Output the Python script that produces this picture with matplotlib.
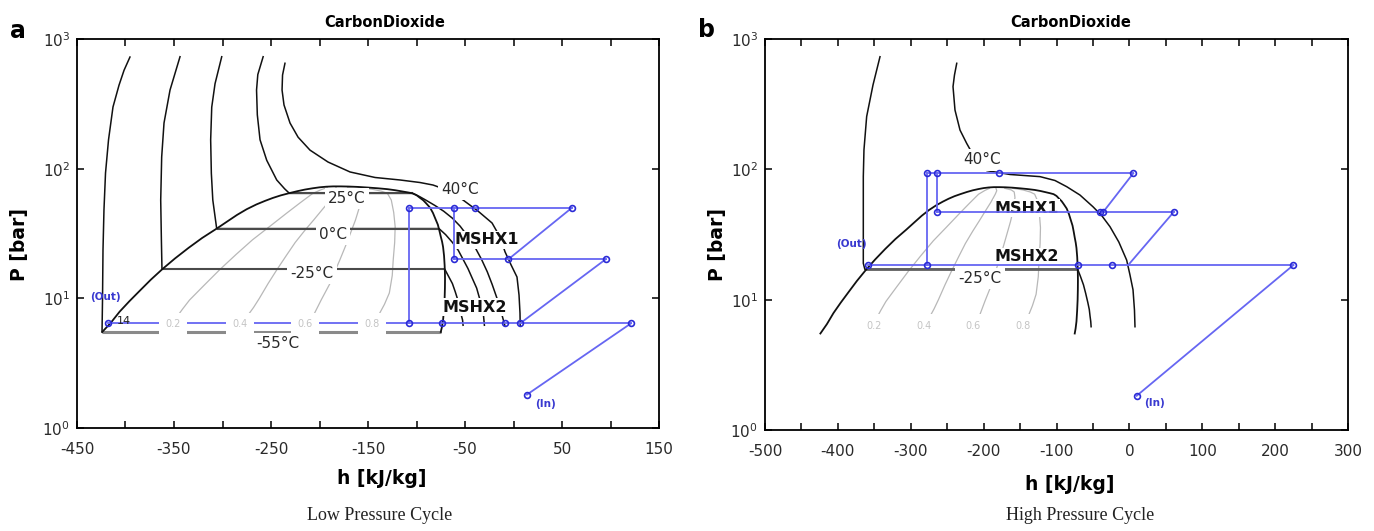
import matplotlib
matplotlib.use("Agg")
import matplotlib.pyplot as plt
from matplotlib.ticker import FixedLocator, NullLocator, LogFormatterSciNotation

plt.rcParams['font.family'] = ['DejaVu Sans']
plt.rcParams['axes.unicode_minus'] = False

# ---------------- data (h [kJ/kg], P [bar]) ----------------
# saturation dome (shared by both panels)
dome_h = [-424, -415, -406, -396, -385, -374, -362, -349, -335, -321, -306, -295, -285, -275,
          -265, -256, -248, -240, -232, -223, -215, -207, -200, -193, -186,
          -178, -170, -160, -150, -140, -130, -122, -115, -109, -104, -100, -97, -93, -90,
          -86, -83, -80.5, -78, -76.5, -75, -73.6, -72.6, -71.6, -71, -70.7, -70.6, -70.7,
          -71, -71.7, -72.6, -73.8, -75]
dome_P = [5.5, 6.5, 7.9, 9.5, 11.5, 13.9, 16.8, 20.3, 24.5, 29.2, 34.5, 39.2, 44, 48.7,
          53, 56.5, 59.5, 62.2, 64.5, 67, 69, 70.6, 71.8, 72.6, 73,
          73, 72.8, 72.3, 71.5, 70.6, 69.5, 68.2, 66.8, 65.6, 64.5, 62.5, 60, 57, 54,
          50, 45.5, 41, 37, 33.5, 30, 27.3, 24.9, 21.3, 18, 15.8, 14, 12,
          10, 8.2, 6.8, 6.0, 5.5]

# constant-quality lines
q_labels = ['0.2', '0.4', '0.6', '0.8']
q_label_h = [-351, -282, -215, -146]
q_label_P = 6.3
q02_h = [-347, -341, -334, -319, -303, -286, -269, -251, -234, -220, -207, -198, -192]
q02_P = [7.2, 8.3, 9.7, 12.6, 16.6, 21.8, 28.3, 36, 45.3, 54.5, 64.4, 69, 71.5]
q04_h = [-275, -268, -262, -253, -244, -234, -225, -215, -206, -197, -190, -184, -182, -183]
q04_P = [7.2, 8.5, 10, 13, 16.6, 21.5, 27, 33.5, 40.2, 48.5, 56, 64.5, 68.5, 71.5]
q06_h = [-207, -198, -189, -184, -179, -173, -168, -163, -159, -157, -158, -162, -171]
q06_P = [7.2, 9.8, 13.1, 16.2, 19.8, 25.5, 31.9, 40, 50, 60.8, 67, 69.5, 71.5]
q08_h = [-140, -133, -128, -125, -124, -122.5, -122, -123.5, -126, -130, -136, -146, -160]
q08_P = [7.2, 9, 11, 15, 19.8, 27, 35.7, 46, 57.3, 64.5, 67, 69.5, 71.5]

# isotherms, panel a
iso_a_m55_h = [-395.4, -401.5, -406.7, -412.9, -417.5, -420.6, -422.2, -423.2, -423.7, -424.2, -75]
iso_a_m55_P = [726, 574, 440, 299, 167, 92.6, 48.1, 23.6, 9.7, 5.5, 5.5]
iso_a_m25_h = [-343.8, -354.1, -360.3, -362.7, -363.7, -363, -362.4, -70.9,
               -67, -63, -60, -57, -55, -54, -52.5, -52]
iso_a_m25_P = [730, 404, 225, 123, 57.3, 28.2, 16.8, 16.8,
               14.8, 13, 11.2, 9.5, 8.4, 7.5, 6.8, 6.2]
iso_a_0_h = [-300.8, -307.7, -311.1, -312.2, -311.5, -310, -306, -76.8,
             -70, -63, -57, -52, -47, -42, -38, -35, -32.5, -31, -30]
iso_a_0_P = [730, 452, 298, 167, 92, 57.3, 34.5, 34.5,
             31, 27, 23.5, 20, 17, 14, 12, 10, 8.6, 7.5, 6.2]
iso_a_25_h = [-258.1, -263.6, -264.9, -264.1, -261.3, -254.4, -244.1, -236, -231, -104,
              -97, -90, -81, -72, -63, -55, -47, -40, -33, -27, -22, -17, -14, -12, -9]
iso_a_25_P = [730, 532, 404, 260, 167, 116, 81.8, 70, 64.5, 64.5,
              61, 57, 52, 47, 41.5, 36, 30, 25, 20, 16, 12.8, 10, 8.6, 7.5, 6.2]
iso_a_40_h = [-235.6, -238.1, -238.6, -236.6, -230.4, -222.1, -209.8, -191.2, -168.5, -142.7,
              -117, -96.4, -83, -68.5, -52, -36.6, -22.1, -13.9, -8.7, -2.5, 3.6, 5.7, 6.7, 6.9]
iso_a_40_P = [650, 527, 404, 310, 225, 175, 139, 112.5, 94.3, 85.5,
              81.8, 78.2, 74.8, 68.4, 57.3, 47.1, 38.1, 29.7, 22.8, 18.1, 14.6, 10.6, 7.7, 6.2]

# isotherms, panel b
iso_b_m25_h = [-342.2, -351.8, -360.5, -364.2, -365.1, -365.1, -363, -70.9,
               -67, -63, -60, -57, -55, -54, -53, -52.5]
iso_b_m25_P = [731, 444, 254, 141, 87.9, 19, 17.1, 17.1,
               15, 13, 11.2, 9.5, 8.4, 7.5, 6.8, 6.2]
iso_b_40_h = [-236.9, -240, -242, -239.3, -232.4, -223.2, -211.9, -195.8, -163.8, -122.6,
              -102.1, -86, -67.8, -49.9, -37.6, -26.6, -14.5, -3.7, 0.8, 5, 7, 7.7]
iso_b_40_P = [651, 529, 431, 285, 200, 158, 122, 97.8, 91.3, 87.9,
              82.1, 73.6, 63.5, 51.6, 43.9, 36.3, 27.7, 20.1, 15.5, 11.9, 8.3, 6.2]

# isotherm labels (text, h, P)
iso_labels_a = [('40°C', -55, 69.5), ('25°C', -171.6, 59), ('0°C', -186, 31),
                ('-25°C', -207.7, 15.5), ('-55°C', -242.8, 4.5)]
iso_labels_b = [('40°C', -202.7, 118), ('-25°C', -205, 14.6)]

# Low pressure cycle (panel a)
lp_P_hi, lp_P_mid, lp_P_lo = 50, 20, 6.4
lp_hi_h = [-107.7, -61.3, -39.7, 60.3]
lp_mid_h = [-61.3, -5.3, 95]
lp_lo_h = [-417.7, -107.7, -74, -8.7, 6.7, 121]
lp_in_h, lp_in_P = 13.9, 1.81

# High pressure cycle (panel b)
hp_P_hi, hp_P_mid, hp_P_lo = 93.3, 47.3, 18.45
hp_hi_h = [-277.3, -264.4, -178.9, 5.4]
hp_mid_h = [-264.4, -40.3, -35.6, 61.2]
hp_lo_h = [-358, -277.3, -70, -24, 225.2]
hp_diag2_end_h = -1.5
hp_in_h, hp_in_P = 10, 1.83

xt_a = [-450, -400, -350, -300, -250, -200, -150, -100, -50, 0, 50, 100, 150]
xl_a = [-450, -350, -250, -150, -50, 50, 150]
xt_b = [-500, -450, -400, -350, -300, -250, -200, -150, -100, -50, 0, 50, 100, 150, 200, 250, 300]
xl_b = [-500, -400, -300, -200, -100, 0, 100, 200, 300]
yt = [1, 10, 100, 1000]

# ---------------- figure ----------------
W, H = 1374, 531
fig = plt.figure(figsize=(W / 100, H / 100), dpi=100)


def px_axes(l, t, r, b):
    return fig.add_axes([l / W, 1 - b / H, (r - l) / W, (b - t) / H])


axA = px_axes(77, 39, 659, 428)
axB = px_axes(765, 39, 1348, 430)

BLUE = '#6666f2'
MBLUE = '#2b2bd6'
TXT = '#2a2a2a'


def style(ax, xt, xl):
    ax.set_yscale('log')
    ax.set_xlim(xt[0], xt[-1])
    ax.set_ylim(yt[0], yt[-1])
    ax.set_xticks(xt, [str(v) if v in xl else '' for v in xt])
    ax.yaxis.set_major_locator(FixedLocator(yt))
    ax.yaxis.set_minor_locator(NullLocator())
    ax.yaxis.set_major_formatter(LogFormatterSciNotation())
    ax.tick_params(direction='in', top=True, right=True, length=5, width=1.1,
                   labelsize=11, labelcolor=TXT)
    ax.tick_params(axis='x', pad=10)
    ax.tick_params(axis='y', pad=5)
    for s in ax.spines.values():
        s.set_linewidth(1.3)


def draw_iso(ax, h, P, hcolor='#4a4a4a', hlw=1.5):
    ax.plot(h, P, color='#111111', lw=1.1, zorder=2)
    for i in range(len(P) - 1):
        if P[i] == P[i + 1]:
            ax.plot([h[i], h[i + 1]], [P[i], P[i]], color=hcolor, lw=hlw, zorder=2.1,
                    solid_capstyle='butt')


def draw_common(ax):
    for qh, qP in [(q02_h, q02_P), (q04_h, q04_P), (q06_h, q06_P), (q08_h, q08_P)]:
        ax.plot(qh, qP, color='#b8b8b8', lw=0.9, zorder=1.5)
    ax.plot(dome_h, dome_P, color='#111111', lw=1.3, zorder=2.2)
    for lab, h in zip(q_labels, q_label_h):
        ax.text(h, q_label_P, lab, fontsize=7, color='#c4c4c4', ha='center', va='center',
                zorder=6, bbox=dict(boxstyle='square,pad=0.65', fc='white', ec='none'))


def iso_label(ax, txt, h, P):
    ax.text(h, P, txt, fontsize=11, color=TXT, ha='center', va='center', zorder=3,
            bbox=dict(boxstyle='square,pad=0.2', fc='white', ec='none'))


def bline(ax, h, P):
    ax.plot(h, P, color=BLUE, lw=1.3, zorder=4)


def bmark(ax, h, P):
    ax.plot(h, P, ls='none', marker='o', ms=4.2, mfc='none', mec=MBLUE, mew=1.2, zorder=4.5)


def mshx(ax, txt, h, P, pad):
    ax.text(h, P, txt, fontsize=11.5, fontweight='bold', color='#111111',
            ha='center', va='center', zorder=3,
            bbox=dict(boxstyle='square,pad=%g' % pad, fc='white', ec='none'))


def blue_text(ax, txt, h, P):
    ax.text(h, P, txt, fontsize=7.5, fontweight='bold', color='#3a3ad0',
            ha='center', va='center', zorder=6)


# ---------- panel a ----------
style(axA, xt_a, xl_a)
draw_common(axA)
draw_iso(axA, iso_a_m55_h, iso_a_m55_P, hcolor='#8a8a8a', hlw=2.2)
draw_iso(axA, iso_a_m25_h, iso_a_m25_P)
draw_iso(axA, iso_a_0_h, iso_a_0_P)
draw_iso(axA, iso_a_25_h, iso_a_25_P)
draw_iso(axA, iso_a_40_h, iso_a_40_P)
for t, h, P in iso_labels_a:
    iso_label(axA, t, h, P)

bline(axA, [lp_hi_h[0], lp_hi_h[-1]], [lp_P_hi] * 2)
bline(axA, [lp_mid_h[0], lp_mid_h[-1]], [lp_P_mid] * 2)
bline(axA, [lp_lo_h[0], lp_lo_h[-1]], [lp_P_lo] * 2)
bline(axA, [lp_hi_h[-1], lp_mid_h[1]], [lp_P_hi, lp_P_mid])
bline(axA, [lp_mid_h[-1], lp_lo_h[4]], [lp_P_mid, lp_P_lo])
bline(axA, [lp_lo_h[-1], lp_in_h], [lp_P_lo, lp_in_P])
bline(axA, [lp_hi_h[0], lp_hi_h[0]], [lp_P_hi, lp_P_lo])
bline(axA, [lp_hi_h[1], lp_hi_h[1]], [lp_P_hi, lp_P_mid])
bmark(axA, lp_hi_h, [lp_P_hi] * len(lp_hi_h))
bmark(axA, lp_mid_h, [lp_P_mid] * len(lp_mid_h))
bmark(axA, lp_lo_h, [lp_P_lo] * len(lp_lo_h))
bmark(axA, [lp_in_h], [lp_in_P])

mshx(axA, 'MSHX1', -27.3, 28.2, 0.12)
mshx(axA, 'MSHX2', -39.7, 8.57, 0.12)
blue_text(axA, '(Out)', -421, 10.3)
blue_text(axA, '(In)', 32.5, 1.53)
axA.text(-402, 6.7, '14', fontsize=8, color='#222222', ha='center', va='center', zorder=6)

# ---------- panel b ----------
style(axB, xt_b, xl_b)
draw_common(axB)
draw_iso(axB, iso_b_m25_h, iso_b_m25_P, hcolor='#606060', hlw=2.0)
draw_iso(axB, iso_b_40_h, iso_b_40_P)
for t, h, P in iso_labels_b:
    iso_label(axB, t, h, P)

mshx(axB, 'MSHX1', -140.9, 50.3, 0.08)
mshx(axB, 'MSHX2', -140.9, 21.4, 0.08)

bline(axB, [hp_hi_h[0], hp_hi_h[-1]], [hp_P_hi] * 2)
bline(axB, [hp_mid_h[0], hp_mid_h[-1]], [hp_P_mid] * 2)
bline(axB, [hp_lo_h[0], hp_lo_h[-1]], [hp_P_lo] * 2)
bline(axB, [hp_hi_h[-1], hp_mid_h[2]], [hp_P_hi, hp_P_mid])
bline(axB, [hp_mid_h[-1], hp_diag2_end_h], [hp_P_mid, hp_P_lo])
bline(axB, [hp_lo_h[-1], hp_in_h], [hp_P_lo, hp_in_P])
bline(axB, [hp_hi_h[0], hp_hi_h[0]], [hp_P_hi, hp_P_lo])
bline(axB, [hp_hi_h[1], hp_hi_h[1]], [hp_P_hi, hp_P_mid])
bmark(axB, hp_hi_h, [hp_P_hi] * len(hp_hi_h))
bmark(axB, hp_mid_h, [hp_P_mid] * len(hp_mid_h))
bmark(axB, hp_lo_h, [hp_P_lo] * len(hp_lo_h))
bmark(axB, [hp_in_h], [hp_in_P])
blue_text(axB, '(Out)', -381, 26.7)
blue_text(axB, '(In)', 35.1, 1.6)


# ---------- figure texts ----------
def ftext(x, y, s, **kw):
    fig.text(x / W, 1 - y / H, s, **kw)


ftext(18, 31, 'a', fontsize=17, fontweight='bold', ha='center', va='center')
ftext(707, 30, 'b', fontsize=17, fontweight='bold', ha='center', va='center')
ftext(385, 22.5, 'CarbonDioxide', fontsize=10.5, fontweight='bold', ha='center', va='center')
ftext(1071, 22.5, 'CarbonDioxide', fontsize=10.5, fontweight='bold', ha='center', va='center')
ftext(20, 245, 'P [bar]', fontsize=13.5, fontweight='bold', rotation=90, ha='center', va='center')
ftext(717, 245, 'P [bar]', fontsize=13.5, fontweight='bold', rotation=90, ha='center', va='center')
ftext(382, 478, 'h [kJ/kg]', fontsize=13.5, fontweight='bold', ha='center', va='center')
ftext(1070, 484, 'h [kJ/kg]', fontsize=13.5, fontweight='bold', ha='center', va='center')
ftext(380, 515, 'Low Pressure Cycle', fontsize=13, family='Liberation Serif',
      ha='center', va='center', color='#222222')
ftext(1080, 516, 'High Pressure Cycle', fontsize=13, family='Liberation Serif',
      ha='center', va='center', color='#222222')

fig.savefig('out.png', dpi=100)
